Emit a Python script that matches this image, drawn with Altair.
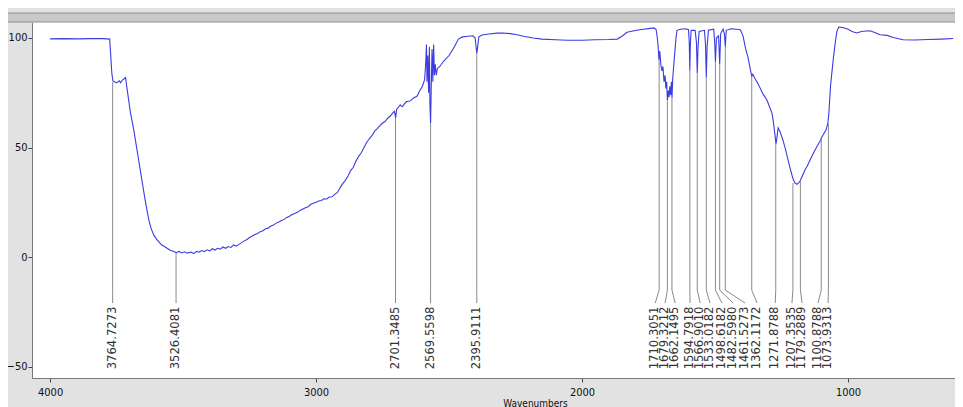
import altair as alt
import pandas as pd

# ---------------- data ----------------
wavenumber = [
    4000, 3950, 3900, 3850, 3800, 3776, 3772, 3768, 3764, 3758, 3750, 3740, 3735, 3728, 3720, 3716,
    3712, 3705, 3698, 3690, 3684, 3676, 3668, 3660, 3652, 3644, 3636, 3628, 3620, 3610, 3600, 3590,
    3580, 3570, 3560, 3550, 3540, 3530, 3526, 3515, 3505, 3495, 3485, 3470, 3460, 3450, 3440, 3430,
    3420, 3410, 3400, 3390, 3380, 3370, 3360, 3350, 3340, 3330, 3320, 3310, 3300, 3290, 3280, 3270,
    3260, 3250, 3240, 3230, 3220, 3210, 3200, 3190, 3180, 3170, 3160, 3150, 3140, 3130, 3120, 3110,
    3100, 3090, 3080, 3070, 3060, 3050, 3040, 3030, 3020, 3010, 3000, 2990, 2980, 2970, 2960, 2950,
    2940, 2930, 2920, 2910, 2900, 2890, 2880, 2870, 2860, 2850, 2840, 2830, 2820, 2810, 2800, 2790,
    2780, 2770, 2760, 2750, 2740, 2730, 2720, 2710, 2705, 2701, 2697, 2690, 2684, 2676, 2670, 2660,
    2647, 2635, 2620, 2610, 2600, 2592, 2588, 2585, 2583, 2580, 2577, 2574, 2572, 2569.5, 2567, 2564,
    2561, 2558, 2555, 2552, 2548, 2544, 2535, 2520, 2500, 2480, 2465, 2450, 2430, 2410, 2402, 2398,
    2395.9, 2393, 2388, 2376, 2350, 2320, 2300, 2270, 2244, 2220, 2184, 2150, 2100, 2056, 2000, 1950,
    1900, 1868, 1850, 1831, 1800, 1770, 1744, 1730, 1722, 1718, 1714, 1711, 1708, 1704, 1700, 1696,
    1692, 1688, 1685, 1682, 1679.3, 1676, 1673, 1670, 1667, 1664, 1662, 1659, 1655, 1651, 1647, 1643,
    1630, 1610, 1600, 1597, 1595, 1593, 1590, 1575, 1570, 1567, 1564, 1560, 1540, 1536, 1533, 1530,
    1525, 1505, 1501, 1498.6, 1495, 1487, 1482.6, 1479, 1470, 1465, 1461.5, 1458, 1440, 1420, 1405, 1395,
    1385, 1376, 1368, 1362, 1358, 1350, 1340, 1330, 1320, 1305, 1295, 1286, 1280, 1274, 1271, 1267,
    1263, 1255, 1244, 1235, 1225, 1218, 1210, 1205, 1199, 1192, 1185, 1180, 1172, 1163, 1154, 1140,
    1128, 1117, 1105, 1100, 1094, 1083, 1076, 1072, 1066, 1056, 1048, 1042, 1035, 1020, 1000, 985,
    967, 950, 930, 917, 900, 880, 853, 830, 793, 750, 700, 650, 605,
]
transmittance = [
    99.6, 99.7, 99.6, 99.7, 99.7, 99.5, 92.0, 84.0, 80.5, 80.0, 79.5, 80.5, 79.6, 80.8, 81.5, 82.0,
    78.0, 72.0, 66.0, 61.0, 57.0, 51.0, 45.0, 39.0, 33.0, 27.0, 21.5, 16.5, 13.0, 10.0, 8.2, 6.8,
    5.5, 4.8, 4.0, 3.2, 2.8, 2.3, 2.0, 2.6, 1.9, 2.4, 1.8, 2.3, 1.6, 2.6, 2.2, 3.0,
    2.5, 3.3, 2.8, 3.8, 3.2, 4.0, 3.6, 4.6, 4.0, 4.8, 4.4, 5.6, 5.0, 5.8, 6.6, 7.4,
    8.0, 8.9, 9.6, 10.3, 10.8, 11.6, 12.0, 12.9, 13.2, 14.2, 14.6, 15.5, 16.0, 16.7, 17.2, 18.1,
    18.6, 19.4, 19.9, 20.5, 21.3, 21.9, 22.5, 23.0, 24.1, 24.6, 25.0, 25.6, 25.8, 26.6, 26.5, 27.4,
    27.5, 28.6, 29.5, 31.6, 33.5, 35.0, 37.0, 39.5, 41.0, 43.8, 46.0, 47.6, 50.0, 52.3, 54.0, 55.4,
    57.5, 58.6, 60.0, 61.2, 62.0, 63.5, 64.5, 66.0, 66.5, 63.5, 67.5, 68.4, 69.5, 68.6, 69.6, 71.0,
    71.2, 72.5, 73.5, 76.0, 78.0, 81.0, 88.0, 97.0, 80.0, 92.0, 75.0, 96.0, 70.0, 61.0, 78.0, 95.0,
    80.0, 97.0, 83.0, 88.0, 83.0, 86.0, 87.0, 89.5, 92.0, 96.0, 99.5, 100.5, 100.8, 101.0, 100.0, 95.5,
    93.0, 95.5, 100.5, 101.4, 101.8, 102.2, 102.3, 102.0, 101.5, 100.8, 100.0, 99.5, 99.2, 99.0, 99.0, 99.2,
    99.3, 99.5, 100.8, 102.6, 103.4, 104.0, 104.4, 104.6, 104.0, 101.0, 96.0, 90.0, 94.0, 88.0, 85.0, 87.0,
    80.0, 83.0, 77.0, 80.0, 71.5, 76.0, 73.0, 78.0, 74.0, 80.0, 72.5, 82.0, 88.0, 94.0, 100.0, 103.5,
    104.0, 104.2, 103.8, 98.0, 85.0, 97.0, 103.5, 103.5, 98.0, 84.0, 96.0, 103.0, 103.5, 97.0, 82.0, 96.0,
    103.5, 104.0, 97.0, 89.0, 100.0, 101.0, 88.0, 102.0, 104.0, 102.0, 96.0, 103.5, 104.2, 104.0, 103.8, 101.0,
    95.0, 91.0, 86.0, 82.5, 83.5, 81.5, 79.5, 77.0, 74.5, 71.7, 68.5, 65.7, 61.0, 55.0, 51.5, 55.0,
    59.0, 57.0, 53.0, 49.0, 44.0, 40.6, 37.0, 35.0, 33.8, 33.2, 34.0, 34.8, 37.0, 39.5, 41.5, 45.0,
    48.0, 50.5, 53.0, 54.5, 55.7, 58.0, 61.0, 66.0, 78.0, 90.0, 98.0, 103.0, 105.0, 104.8, 104.0, 103.0,
    102.3, 103.0, 103.2, 103.3, 102.5, 101.5, 101.2, 100.2, 99.2, 99.1, 99.3, 99.5, 99.8,
]

peak_wn = [3764.7273, 3526.4081, 2701.3485, 2569.5598, 2395.9111, 1710.3051, 1679.3212,
           1662.1495, 1594.7918, 1566.9010, 1533.0182, 1498.6182, 1482.5980, 1461.5273,
           1362.1172, 1271.8788, 1207.3535, 1179.2889, 1100.8788, 1073.9313]
peak_t = [80.0, 2.0, 63.5, 61.0, 93.0, 90.0, 71.5, 72.5, 85.0, 84.0, 82.0, 89.0, 88.0,
          96.0, 82.5, 51.5, 33.8, 34.8, 54.5, 61.0]
label_wn = [3764.7273, 3526.4081, 2701.3485, 2569.5598, 2395.9111, 1725, 1688, 1650,
            1594, 1556, 1519, 1474, 1432, 1387, 1342, 1274, 1211, 1173, 1113, 1075]

x_ticks = [4000, 3000, 2000, 1000]
y_ticks = [100, 50, 0, -50]
x_title = "Wavenumbers"

# ---------------- layout / style constants ----------------
W, H = 923, 356
KNEE, FOOT, TEXT_TOP = -15.1, -21.0, -22.6
BLUE = "#3b3be0"
LEADER = "#8a8a8a"
AXFONT = "DejaVu Sans Condensed, Liberation Sans, Arial, sans-serif"

spec = pd.DataFrame({"wn": wavenumber, "t": transmittance})
peaks = pd.DataFrame({
    "peak": peak_wn,
    "t": peak_t,
    "lx": label_wn,
    "label": [f"{v:.4f}" for v in peak_wn],
})
peaks["knee"] = KNEE
peaks["foot"] = FOOT
peaks["top"] = TEXT_TOP

xscale = alt.Scale(domain=[598, 4068], reverse=True, nice=False, zero=False)
yscale = alt.Scale(domain=[-55.2, 107.3], nice=False, zero=False)

x_axis = alt.Axis(values=x_ticks, format="d", title=x_title, grid=False, tickSize=4,
                  labelPadding=4, titlePadding=1, titleX=503, labelFont=AXFONT,
                  labelFontSize=11, titleFont=AXFONT, titleFontSize=10,
                  titleFontWeight="normal", domainColor="#7a7a7a", tickColor="#444",
                  labelColor="#111", titleColor="#111")
y_axis = alt.Axis(values=y_ticks, format="d", title=None, grid=False, tickSize=4,
                  labelPadding=1, labelFont=AXFONT, labelFontSize=11,
                  domainColor="#7a7a7a", tickColor="#444", labelColor="#111")

base = alt.Chart(spec)

line = base.mark_line(color=BLUE, strokeWidth=1.1).encode(
    x=alt.X("wn:Q", scale=xscale, axis=x_axis),
    y=alt.Y("t:Q", scale=yscale, axis=y_axis),
    order="wn:Q",
)

pk = alt.Chart(peaks)
vert = pk.mark_rule(color=LEADER, strokeWidth=1).encode(
    x=alt.X("peak:Q", scale=xscale),
    y=alt.Y("t:Q", scale=yscale),
    y2="knee:Q",
)
diag = pk.mark_rule(color=LEADER, strokeWidth=1).encode(
    x=alt.X("peak:Q", scale=xscale),
    x2="lx:Q",
    y=alt.Y("knee:Q", scale=yscale),
    y2="foot:Q",
)
labels = pk.mark_text(angle=270, align="right", baseline="middle", font="DejaVu Sans",
                      fontSize=11.6, color="#333333").encode(
    x=alt.X("lx:Q", scale=xscale),
    y=alt.Y("top:Q", scale=yscale),
    text="label:N",
)

band = alt.Chart(pd.DataFrame({"k": [0]})).mark_rect(
    color="#c9c9c9", stroke="#8f8f8f", strokeWidth=1
).encode(
    x=alt.value(-30), x2=alt.value(W + 30), y=alt.value(-9), y2=alt.value(0)
)

chart = alt.layer(band, line, vert, diag, labels).properties(
    width=W, height=H,
    autosize=alt.AutoSizeParams(type="none"),
    padding={"left": 24, "top": 14, "right": 0, "bottom": 30},
    background="#e2e2e2",
).configure_view(fill="white", stroke=None)

chart.save("out.html", embed_options={"renderer": "svg", "actions": False})
